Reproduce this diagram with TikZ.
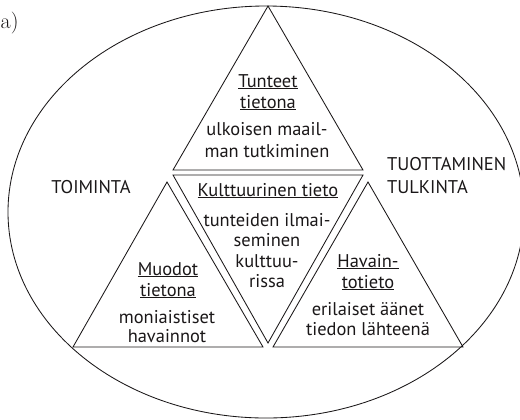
\documentclass[tikz,border=0pt]{standalone}
\usepackage{fontspec}
\setsansfont{PT Sans}
\definecolor{ink}{HTML}{1A1718}
\begin{document}
\begin{tikzpicture}[x=1bp,y=-1bp,
  outline/.style={draw=ink, line width=0.85bp, line join=miter},
  txt/.style={font=\sffamily\fontsize{18.5}{21}\selectfont, text=ink, inner sep=0pt, anchor=base},
  lbl/.style={font=\sffamily\fontsize{18.5}{21}\selectfont, text=ink, inner sep=0pt, anchor=base west}]
\useasboundingbox (0,0) rectangle (520,419);
\clip (0,0) rectangle (520,419);
% outer ellipse
\draw[outline] (266,212) ellipse [x radius=258bp, y radius=206bp];
% triangles
\draw[outline] (268,6) -- (363,170) -- (173,170) -- cycle;
\draw[outline] (173,175) -- (363,175) -- (268,343) -- cycle;
\draw[outline] (167,182) -- (263,347) -- (73,347) -- cycle;
\draw[outline] (368,182) -- (463,347) -- (273,347) -- cycle;
% label a)
\node[font=\fontsize{22}{26}\selectfont, text=ink, inner sep=0pt, anchor=base west] (lab) at (0.5,28) {a)};
% top triangle
\node[txt] (t1) at (268,87) {\underline{Tunteet}};
\node[txt] (t2) at (268,108) {\underline{tietona}};
\node[txt] (t3) at (267,135) {ulkoisen maail-};
\node[txt] (t4) at (267,157) {man tutkiminen};
% middle triangle
\node[txt] (m1) at (268,196) {\underline{Kulttuurinen tieto}};
\node[txt] (m2) at (267,226) {tunteiden ilmai-};
\node[txt] (m3) at (267,246.5) {seminen};
\node[txt] (m4) at (267,267) {kulttuu-};
\node[txt] (m5) at (267,287) {rissa};
% left triangle
\node[txt] (l1) at (168,275) {\underline{Muodot}};
\node[txt] (l2) at (168,296) {\underline{tietona}};
\node[txt] (l3) at (167,323) {moniaistiset};
\node[txt] (l4) at (167,342) {havainnot};
% right triangle
\node[txt] (r1) at (368,267) {\underline{Havain-}};
\node[txt] (r2) at (368,288) {\underline{totieto}};
\node[txt] (r3) at (368,315) {erilaiset äänet};
\node[txt] (r4) at (368,335) {tiedon lähteenä};
% side labels
\node[txt] (toim) at (91,193) {TOIMINTA};
\node[lbl] (tuot) at (387,170) {TUOTTAMINEN};
\node[lbl] (tulk) at (387,193) {TULKINTA};
\end{tikzpicture}
\end{document}
